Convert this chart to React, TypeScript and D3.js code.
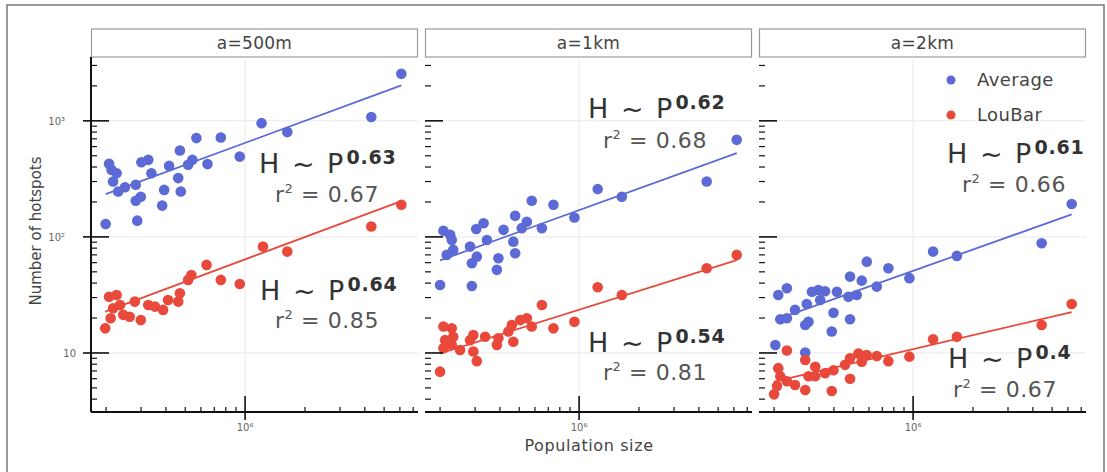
import React, { useEffect, useRef } from "react";
import * as d3 from "d3";

type Pt = [number, number]; // [population, hotspots]

const panelTitles = ["a=500m", "a=1km", "a=2km"];
const seriesNames = ["Average", "LouBar"];
const seriesColors = ["#5b6ad4", "#e8493b"];

const average500: Pt[] = [
  [6.1e6, 2540], [4.31e6, 1080], [1.63e6, 800], [1.21e6, 955], [9.4e5, 492], [7.55e5, 718],
  [5.69e5, 710], [6.47e5, 424], [5.43e5, 461], [5.17e5, 418], [4.7e5, 555], [4.15e5, 409],
  [4.61e5, 321], [4.75e5, 246], [3.92e5, 254], [3.83e5, 186], [3.38e5, 354], [3.26e5, 461],
  [3.01e5, 440], [2.99e5, 222], [2.82e5, 205], [2.87e5, 138], [2.82e5, 281], [2.49e5, 268],
  [2.3e5, 246], [2.17e5, 300], [2.26e5, 354], [2.13e5, 378], [2.07e5, 426], [1.99e5, 129],
];
const loubar500: Pt[] = [
  [6.1e6, 189], [4.31e6, 123], [1.63e6, 74.7], [1.23e6, 82.5], [9.4e5, 39.3], [7.55e5, 42.6],
  [6.4e5, 57.4], [5.37e5, 47.0], [5.17e5, 42.6], [4.7e5, 32.7], [4.61e5, 27.7], [4.1e5, 28.6],
  [3.87e5, 23.5], [3.52e5, 25.1], [3.26e5, 25.9], [2.99e5, 19.2], [2.79e5, 27.7], [2.63e5, 20.5],
  [2.44e5, 21.3], [2.26e5, 31.6], [2.07e5, 30.5], [2.17e5, 24.3], [2.11e5, 19.9], [1.98e5, 16.3],
  [2.35e5, 25.9],
];
const average1k: Pt[] = [
  [6.2e6, 686], [4.38e6, 300], [1.64e6, 222], [1.24e6, 258], [9.47e5, 147], [7.43e5, 189],
  [5.78e5, 205], [6.5e5, 119], [5.46e5, 135], [5.15e5, 119], [4.77e5, 152], [4.17e5, 115],
  [3.31e5, 131], [3.04e5, 117], [2.08e5, 113], [2.25e5, 104], [3.44e5, 94], [4.67e5, 91],
  [2.83e5, 82.5], [2.33e5, 77.3], [2.16e5, 70], [3.06e5, 67.6], [4.77e5, 72.3], [3.93e5, 65.5],
  [2.89e5, 59.3], [3.86e5, 52], [2.0e5, 38.5], [2.89e5, 37.8], [2.29e5, 94],
];
const loubar1k: Pt[] = [
  [6.2e6, 70], [4.38e6, 53.7], [1.64e6, 31.6], [1.24e6, 36.8], [9.47e5, 18.6], [7.43e5, 16.3],
  [6.5e5, 25.9], [5.78e5, 16.9], [5.46e5, 19.9], [5.06e5, 19.2], [4.59e5, 17.4], [4.67e5, 12.5],
  [4.41e5, 15.3], [3.93e5, 13.4], [3.86e5, 11.7], [3.37e5, 13.8], [2.94e5, 14.3], [2.83e5, 12.9],
  [2.94e5, 10.3], [3.06e5, 8.5], [2.52e5, 10.6], [2.29e5, 11.7], [2.08e5, 11.0], [2.12e5, 12.9],
  [2.08e5, 16.9], [2.29e5, 16.3], [2.0e5, 6.9], [2.33e5, 13.8],
];
const average2k: Pt[] = [
  [6.27e6, 192], [4.43e6, 88.2], [1.66e6, 68.6], [1.26e6, 74.7], [9.58e5, 44.1], [7.51e5, 53.7],
  [5.85e5, 61.2], [6.57e5, 37.3], [5.52e5, 42], [4.82e5, 45.5], [5.21e5, 31.6], [4.73e5, 30.5],
  [4.14e5, 33.7], [3.98e5, 22.2], [4.82e5, 19.5], [3.9e5, 15.3], [3.34e5, 34.9], [3.1e5, 33.7],
  [3.41e5, 28.6], [2.92e5, 26.4], [2.98e5, 18.6], [2.87e5, 17.4], [2.55e5, 23.5], [2.32e5, 19.9],
  [2.15e5, 19.5], [2.32e5, 36.1], [2.1e5, 31.6], [2.03e5, 11.7], [2.87e5, 10.1], [3.61e5, 34],
];
const loubar2k: Pt[] = [
  [6.27e6, 26.4], [4.43e6, 17.4], [1.66e6, 13.8], [1.26e6, 13.1], [9.58e5, 9.3], [7.51e5, 8.5],
  [6.57e5, 9.4], [5.85e5, 9.6], [5.31e5, 9.9], [5.52e5, 8.4], [4.82e5, 9.0], [4.55e5, 7.9],
  [4.82e5, 6.0], [3.98e5, 7.1], [3.9e5, 4.7], [3.61e5, 6.7], [3.22e5, 7.6], [2.98e5, 6.3],
  [2.87e5, 8.7], [2.87e5, 4.8], [2.55e5, 5.3], [2.32e5, 5.7], [2.32e5, 10.5], [2.1e5, 7.4],
  [2.15e5, 6.3], [2.0e5, 4.4], [2.07e5, 5.2], [3.22e5, 6.3],
];

const averageSeries = [average500, average1k, average2k];
const loubarSeries = [loubar500, loubar1k, loubar2k];
const averageExponent = ["0.63", "0.62", "0.61"];
const loubarExponent = ["0.64", "0.54", "0.4"];
const averageR2 = ["0.67", "0.68", "0.66"];
const loubarR2 = ["0.85", "0.81", "0.67"];
// fitted H at P = 10^6
const averageFitAtMillion = [646, 170, 51];
const loubarFitAtMillion = [64, 23.6, 10.8];

const populationDomain = [1.68e5, 7.4e6];
const hotspotDomain = [3.1, 3548];

const PW = 327;
const PH = 355;
const TOP = 57;
const LEFT = 91;
const STEP = 334;

// annotation anchors inside each panel: [hx, hy, rx, ry]
const avgNote = [[168, 116, 236, 145], [163, 61, 230, 91], [188, 106, 255, 135]];
const louNote = [[169, 243, 236, 271], [163, 295, 230, 323], [189, 311, 246, 340]];

const supers: Record<string, string> = { "1": "", "2": "²", "3": "³", "6": "⁶" };

export default function App() {
  const ref = useRef<SVGSVGElement>(null);

  useEffect(() => {
    const svg = d3.select(ref.current);
    svg.selectAll("*").remove();
    const font = "DejaVu Sans, sans-serif";

    const x = d3.scaleLog().domain(populationDomain).range([0, PW]);
    const y = d3.scaleLog().domain(hotspotDomain).range([PH, 0]);

    // outer frame
    svg.append("path")
      .attr("d", "M7,472 V5 H1104 V472")
      .attr("fill", "none")
      .attr("stroke", "#777")
      .attr("stroke-width", 1.5);

    const yTicks = y.ticks();
    const xTicks = x.ticks();
    const isMajor = (v: number) => Math.abs(Math.log10(v) - Math.round(Math.log10(v))) < 1e-9;

    panelTitles.forEach((title, i) => {
      const g = svg.append("g").attr("transform", `translate(${LEFT + i * STEP},${TOP})`);

      // header strip
      g.append("rect")
        .attr("x", 0.5).attr("y", -28).attr("width", PW - 1).attr("height", 28)
        .attr("fill", "#fff").attr("stroke", "#999").attr("stroke-width", 1.2);
      g.append("text")
        .attr("x", PW / 2).attr("y", -8)
        .attr("text-anchor", "middle")
        .attr("font-family", font).attr("font-size", 17).attr("letter-spacing", 0.3).attr("fill", "#444")
        .text(title);

      // grid
      g.append("line")
        .attr("x1", x(1e6)).attr("x2", x(1e6)).attr("y1", 0).attr("y2", PH)
        .attr("stroke", "#e8e8e8");
      [10, 100, 1000].forEach((v) => {
        g.append("line")
          .attr("x1", 0).attr("x2", PW).attr("y1", y(v)).attr("y2", y(v))
          .attr("stroke", "#e8e8e8");
      });

      // fit lines
      const fits = [
        { pts: averageSeries[i], exp: +averageExponent[i], c: averageFitAtMillion[i], color: seriesColors[0] },
        { pts: loubarSeries[i], exp: +loubarExponent[i], c: loubarFitAtMillion[i], color: seriesColors[1] },
      ];
      fits.forEach((f) => {
        const ext = d3.extent(f.pts, (d) => d[0]) as [number, number];
        const line = d3.line<number>()
          .x((p) => x(p))
          .y((p) => y(f.c * Math.pow(p / 1e6, f.exp)));
        g.append("path")
          .datum(ext)
          .attr("d", line)
          .attr("fill", "none")
          .attr("stroke", f.color)
          .attr("stroke-width", 1.8);
      });

      // points
      [averageSeries[i], loubarSeries[i]].forEach((pts, s) => {
        g.selectAll(`circle.s${s}`)
          .data(pts)
          .enter()
          .append("circle")
          .attr("class", `s${s}`)
          .attr("cx", (d) => x(d[0]))
          .attr("cy", (d) => y(d[1]))
          .attr("r", 5.3)
          .attr("fill", seriesColors[s]);
      });

      // y ticks
      yTicks.forEach((v) => {
        const major = isMajor(v);
        g.append("line")
          .attr("x1", major ? (i === 0 ? -8 : 0) : 0).attr("x2", major ? 18 : 6)
          .attr("y1", y(v)).attr("y2", y(v))
          .attr("stroke", "#111").attr("stroke-width", major ? 1.6 : 1.2);
        if (major && i === 0) {
          const e = String(Math.round(Math.log10(v)));
          g.append("text")
            .attr("x", v === 10 ? -15 : -26).attr("y", y(v) + 4)
            .attr("text-anchor", "end")
            .attr("font-family", font).attr("font-size", 10).attr("fill", "#666")
            .text("10" + supers[e]);
        }
      });

      // x ticks
      xTicks.forEach((v) => {
        const major = isMajor(v);
        g.append("line")
          .attr("x1", x(v)).attr("x2", x(v))
          .attr("y1", major ? PH - 16 : PH - 5).attr("y2", major ? PH + 8 : PH)
          .attr("stroke", "#111").attr("stroke-width", major ? 1.6 : 1.2);
        if (major) {
          g.append("text")
            .attr("x", x(v)).attr("y", PH + 19)
            .attr("text-anchor", "middle")
            .attr("font-family", font).attr("font-size", 10).attr("fill", "#666")
            .text("10" + supers[String(Math.round(Math.log10(v)))]);
        }
      });

      // spines
      g.append("line")
        .attr("x1", 0).attr("x2", PW).attr("y1", PH).attr("y2", PH)
        .attr("stroke", "#111").attr("stroke-width", 2);
      if (i === 0) {
        g.append("line")
          .attr("x1", 0).attr("x2", 0).attr("y1", 0).attr("y2", PH)
          .attr("stroke", "#111").attr("stroke-width", 2);
      }

      // annotations
      const notes = [
        { pos: avgNote[i], exp: averageExponent[i], r2: averageR2[i] },
        { pos: louNote[i], exp: loubarExponent[i], r2: loubarR2[i] },
      ];
      notes.forEach((n) => {
        const [hx, hy, rx, ry] = n.pos;
        const t = g.append("text")
          .attr("x", hx).attr("y", hy)
          .attr("font-family", font).attr("font-size", 27).attr("fill", "#333")
          .attr("word-spacing", 4);
        t.append("tspan").text("H ~ P");
        t.append("tspan")
          .attr("dx", 3).attr("dy", -9)
          .attr("font-size", 19).attr("font-weight", "bold").attr("letter-spacing", 0.8)
          .text(n.exp);
        const r = g.append("text")
          .attr("x", rx).attr("y", ry)
          .attr("text-anchor", "middle")
          .attr("font-family", font).attr("font-size", 22).attr("fill", "#555")
          .attr("letter-spacing", 0.6);
        r.append("tspan").text("r");
        r.append("tspan").attr("dy", -9).attr("font-size", 13).text("2");
        r.append("tspan").attr("dy", 9).text(" = " + n.r2);
      });

      // legend in last panel
      if (i === panelTitles.length - 1) {
        seriesNames.forEach((name, s) => {
          const ly = 23 + s * 35;
          g.append("circle").attr("cx", 192).attr("cy", ly).attr("r", 4.5).attr("fill", seriesColors[s]);
          g.append("text")
            .attr("x", 218).attr("y", ly + 6)
            .attr("font-family", font).attr("font-size", 18).attr("letter-spacing", 0.4).attr("fill", "#444")
            .text(name);
        });
      }
    });

    // axis titles
    svg.append("text")
      .attr("transform", "translate(41,231) rotate(-90)")
      .attr("text-anchor", "middle")
      .attr("font-family", font).attr("font-size", 15).attr("fill", "#444")
      .text("Number of hotspots");
    svg.append("text")
      .attr("x", 589).attr("y", 451)
      .attr("text-anchor", "middle")
      .attr("font-family", font).attr("font-size", 16).attr("letter-spacing", 0.6).attr("fill", "#444")
      .text("Population size");
  }, []);

  return (
    <div style={{ position: "absolute", left: 0, top: 0 }}>
      <svg ref={ref} width={1107} height={472} style={{ display: "block", background: "#fff" }} />
    </div>
  );
}
